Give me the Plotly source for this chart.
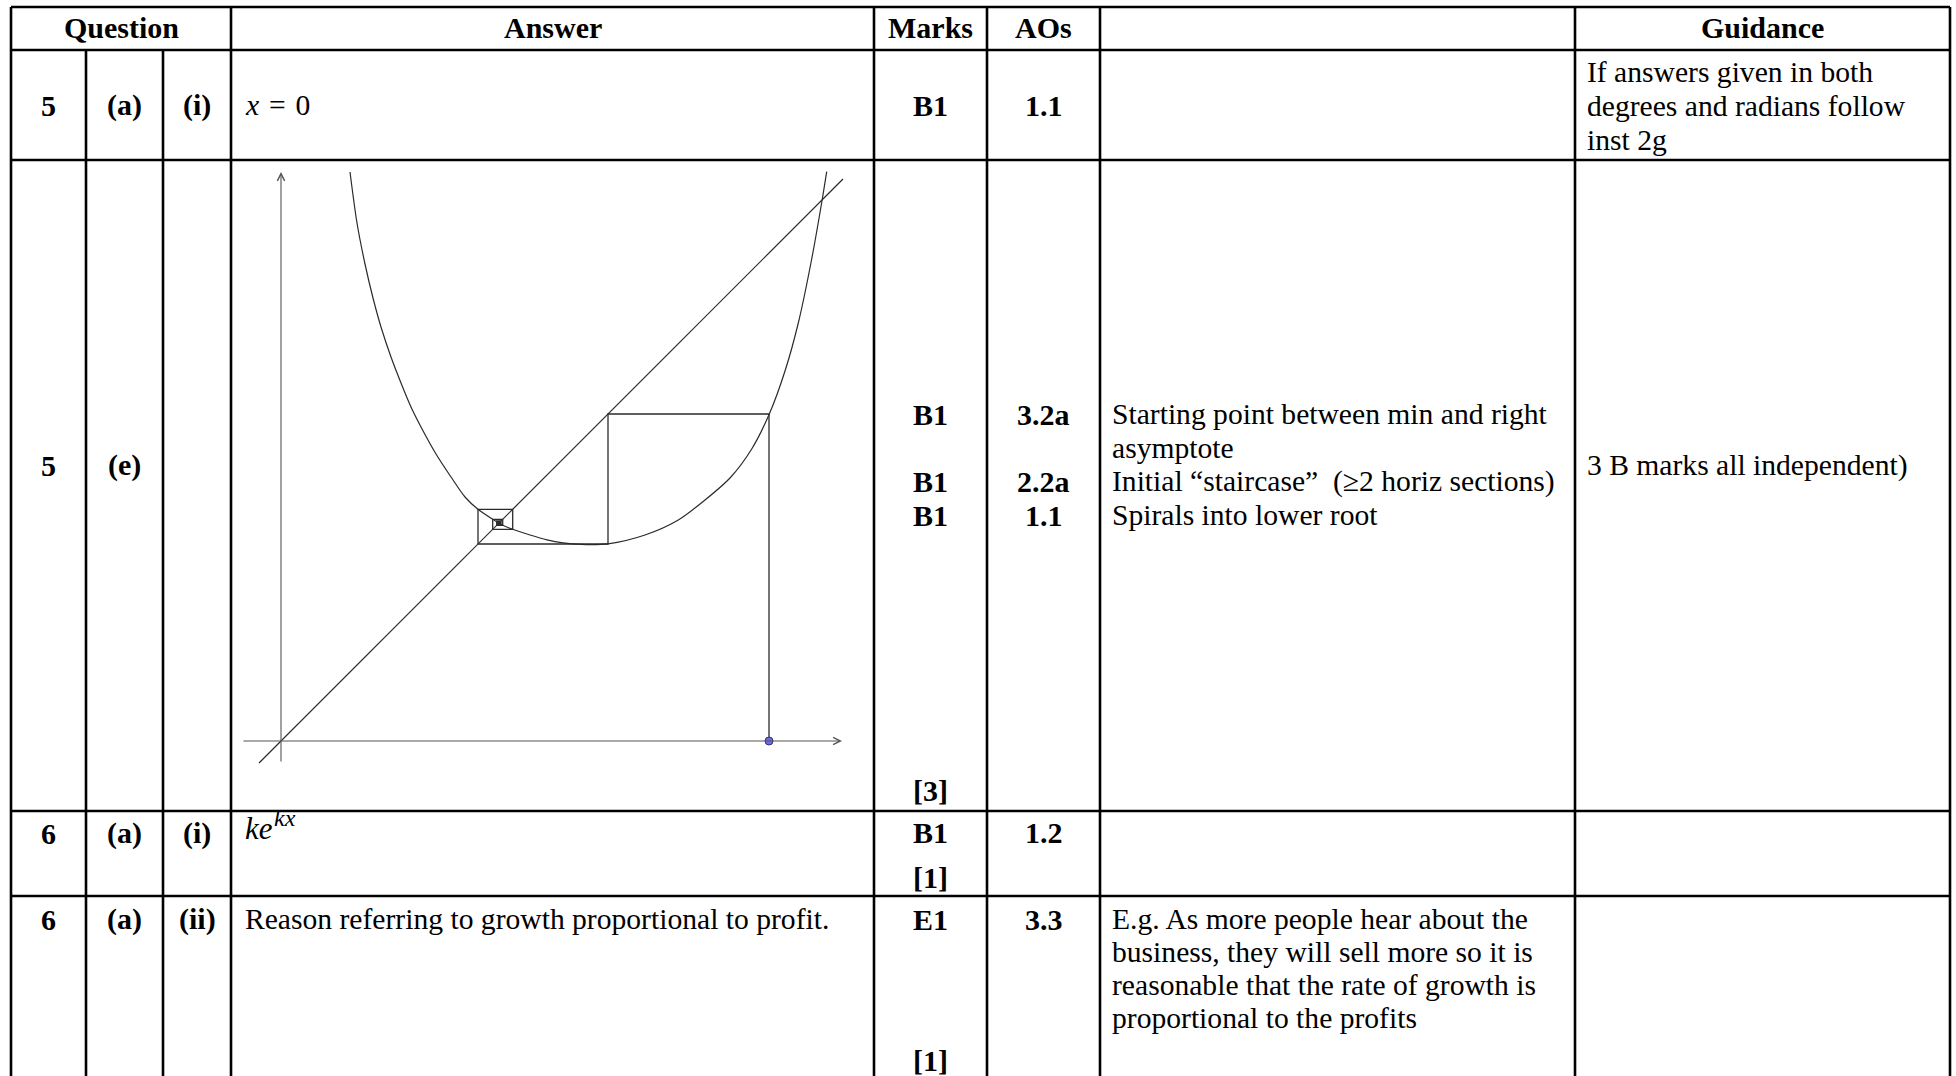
import plotly.graph_objects as go

# ---------------- data ----------------
headers = ["Question", "Answer", "Marks", "AOs", "", "Guidance"]
q_num = ["5", "5", "6", "6"]
q_part = ["(a)", "(e)", "(a)", "(a)"]
q_sub = ["(i)", "", "(i)", "(ii)"]
answers = ["<i>x</i>\u2004=\u20040", "", "<i>ke</i>",
           "Reason referring to growth proportional to profit."]
answer_sup = ["", "", "<i>kx</i>", ""]
marks = [["B1"], ["B1", "B1", "B1", "[3]"], ["B1", "[1]"], ["E1", "[1]"]]
aos = [["1.1"], ["3.2a", "2.2a", "1.1"], ["1.2"], ["3.3"]]
notes = [[],
         ["Starting point between min and right", "asymptote",
          "Initial \u201cstaircase\u201d\u00a0 (\u22652 horiz sections)", "Spirals into lower root"],
         [],
         ["E.g. As more people hear about the", "business, they will sell more so it is",
          "reasonable that the rate of growth is", "proportional to the profits"]]
guidance = [["If answers given in both", "degrees and radians follow", "inst 2g"],
            ["3 B marks all independent)"], [], []]

# graph in 5(e): curve y = f(x)
curve_x = [0.69, 0.76, 0.84, 0.92, 1.0, 1.1, 1.2, 1.3, 1.4, 1.55, 1.7, 1.84, 1.97,
           2.117, 2.217, 2.317, 2.49, 2.66, 2.82, 3.0, 3.27, 3.64, 3.973, 4.24, 4.49,
           4.707, 4.883, 5.04, 5.173, 5.307, 5.413, 5.457]
curve_y = [5.69, 5.18, 4.77, 4.43, 4.14, 3.84, 3.58, 3.34, 3.14, 2.87, 2.64, 2.44, 2.317,
           2.217, 2.157, 2.117, 2.06, 2.012, 1.982, 1.966, 1.972, 2.06, 2.21, 2.41, 2.63,
           2.92, 3.27, 3.70, 4.18, 4.82, 5.42, 5.693]
line_yx = [-0.22, 5.62]          # ends of y = x
x_axis_ends = [-0.39, 5.61]
y_axis_ends = [-0.22, 5.69]
iterates = [4.88, 3.27, 1.97, 2.317, 2.117, 2.217, 2.157, 2.20, 2.17, 2.19, 2.18]

# ---------------- layout constants (page px) ----------------
W, H = 1956, 1076
COLS = [11, 86, 163, 231, 874, 987, 1100, 1575, 1950]
ROWS = [7, 50, 160, 811, 896, 1076]
FONT = "Liberation Serif"
REG = 29.6
BOLD = 30

fig = go.Figure()
fig.add_trace(go.Scatter(x=[0, W], y=[0, H], mode="markers", marker=dict(opacity=0),
                         hoverinfo="skip", xaxis="x", yaxis="y"))

# ---------- table grid ----------
LW = 2.6
def hline(y, x0, x1):
    fig.add_shape(type="line", xref="x", yref="y", x0=x0, x1=x1, y0=y, y1=y,
                  line=dict(color="black", width=LW))
def vline(x, y0, y1):
    fig.add_shape(type="line", xref="x", yref="y", x0=x, x1=x, y0=y0, y1=y1,
                  line=dict(color="black", width=LW))

for y in ROWS[:-1]:
    hline(y, COLS[0], COLS[-1])
for i, x in enumerate(COLS):
    if i in (1, 2):
        vline(x, ROWS[1], H + 5)
    else:
        vline(x, ROWS[0], H + 5)

# ---------- text ----------
def text(x, y, s, bold=False, anchor="center", size=None):
    if size is None:
        size = BOLD if bold else REG
    fig.add_annotation(x=x, y=y, xref="x", yref="y", text=("<b>%s</b>" % s) if bold else s,
                       showarrow=False, xanchor=anchor, yanchor="middle",
                       font=dict(family=FONT, size=size, color="black"))

def mid(i, j):
    return (COLS[i] + COLS[j]) / 2

HEAD_Y = 27.5
head_spans = [(0, 3), (3, 4), (4, 5), (5, 6), (6, 7), (7, 8)]
for h, (i, j) in zip(headers, head_spans):
    if h:
        text(mid(i, j), HEAD_Y, h, bold=True)

q_y = [105, 465, 833, 919]
ans_y = [105, 465, 828, 919]
mark_y = [[105], [414, 481, 515, 790], [832, 877], [919, 1060]]
ao_y = [[105], [414, 481, 515], [832], [919]]
note_y = [[], [414, 448, 481, 515], [], [919, 952, 985, 1018]]
guid_y = [[72, 106, 140], [465], [], []]

for r in range(4):
    text(mid(0, 1), q_y[r], q_num[r], bold=True)
    text(mid(1, 2), q_y[r], q_part[r], bold=True)
    if q_sub[r]:
        text(mid(2, 3), q_y[r], q_sub[r], bold=True)
    if answers[r]:
        text(243, ans_y[r], answers[r], anchor="left", size=31 if answer_sup[r] else REG)
    if answer_sup[r]:
        text(272, ans_y[r] - 10, answer_sup[r], anchor="left", size=24)
    for s, y in zip(marks[r], mark_y[r]):
        text(mid(4, 5), y, s, bold=True)
    for s, y in zip(aos[r], ao_y[r]):
        text(mid(5, 6), y, s, bold=True)
    for s, y in zip(notes[r], note_y[r]):
        text(1110, y, s, anchor="left")
    for s, y in zip(guidance[r], guid_y[r]):
        text(1585, y, s, anchor="left")

# ---------- embedded graph (5e) ----------
PX = 100.0          # px per unit
OX, OY = 281, 741   # origin position on page
gx0, gx1, gy0, gy1 = 232, 873, 161, 810
xa2 = dict(domain=[gx0 / W, gx1 / W], range=[(gx0 - OX) / PX, (gx1 - OX) / PX],
           visible=False, anchor="y2", fixedrange=True)
ya2 = dict(domain=[(H - gy1) / H, (H - gy0) / H], range=[(OY - gy1) / PX, (OY - gy0) / PX],
           visible=False, anchor="x2", fixedrange=True)

AX = "#555555"
INK = "#2b2b2b"
# axes drawn as arrows
fig.add_annotation(x=0, y=y_axis_ends[1], ax=0, ay=y_axis_ends[0],
                   xref="x2", yref="y2", axref="x2", ayref="y2", text="", showarrow=True,
                   arrowhead=5, arrowsize=1.3, arrowwidth=1.1, arrowcolor=AX, standoff=0)
fig.add_annotation(x=x_axis_ends[1], y=0, ax=x_axis_ends[0], ay=0,
                   xref="x2", yref="y2", axref="x2", ayref="y2", text="", showarrow=True,
                   arrowhead=5, arrowsize=1.3, arrowwidth=1.1, arrowcolor=AX, standoff=0)
# y = x
fig.add_trace(go.Scatter(x=line_yx, y=line_yx, mode="lines", line=dict(color=INK, width=1.2),
                         xaxis="x2", yaxis="y2", hoverinfo="skip"))
# curve
fig.add_trace(go.Scatter(x=curve_x, y=curve_y, mode="lines",
                         line=dict(color=INK, width=1.2, shape="spline", smoothing=0.8),
                         xaxis="x2", yaxis="y2", hoverinfo="skip"))
# cobweb staircase
cw_x, cw_y = [iterates[0]], [0]
for a, b in zip(iterates[:-1], iterates[1:]):
    cw_x += [a, b]
    cw_y += [b, b]
fig.add_trace(go.Scatter(x=cw_x, y=cw_y, mode="lines", line=dict(color=INK, width=1.3),
                         xaxis="x2", yaxis="y2", hoverinfo="skip"))
# starting point
fig.add_trace(go.Scatter(x=[iterates[0]], y=[0], mode="markers",
                         marker=dict(size=8, color="#6b6bea", line=dict(color="#333366", width=1)),
                         xaxis="x2", yaxis="y2", hoverinfo="skip"))

fig.update_layout(
    width=W, height=H, margin=dict(l=0, r=0, t=0, b=0),
    paper_bgcolor="white", plot_bgcolor="white", showlegend=False,
    xaxis=dict(domain=[0, 1], range=[0, W], visible=False, fixedrange=True),
    yaxis=dict(domain=[0, 1], range=[H, 0], visible=False, fixedrange=True),
    xaxis2=xa2, yaxis2=ya2,
)
fig.write_html("out.html", config={"displayModeBar": False},
               post_script="document.body.style.margin='0';document.body.style.overflow='hidden';")
